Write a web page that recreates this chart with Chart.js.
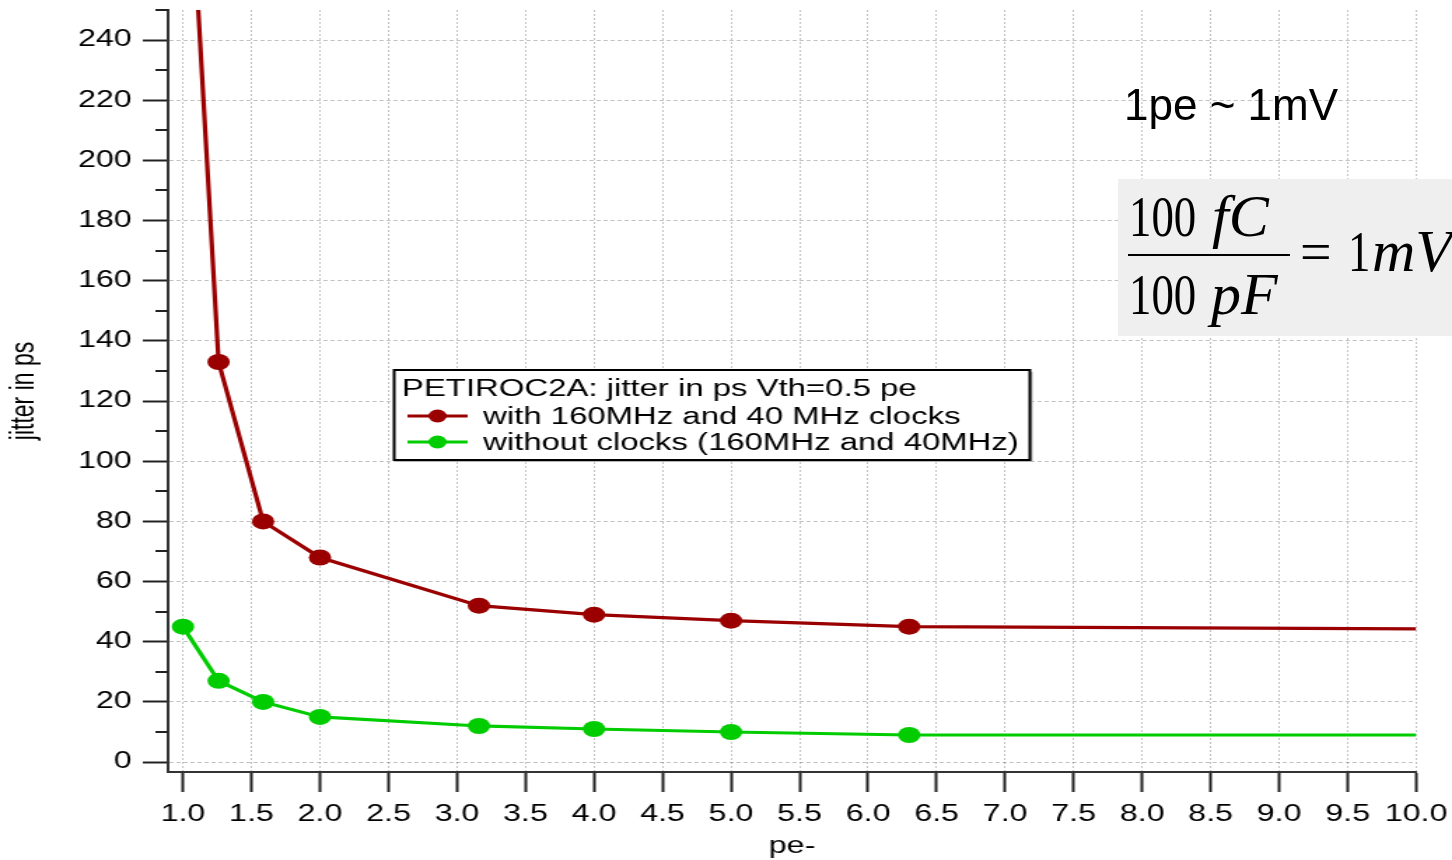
<!DOCTYPE html>
<html>
<head>
<meta charset="utf-8">
<script src="https://cdn.jsdelivr.net/npm/chart.js@4.4.0/dist/chart.umd.min.js"></script>
<style>
  body { margin: 0; background: #fff; }
  #wrap { position: relative; width: 1452px; height: 860px; overflow: hidden; background: #fff; }
  #chart { position: absolute; left: 0; top: 0; }
  .note { position: absolute; left: 1124px; top: 83px; font: 44px/44px "Liberation Sans", Arial, sans-serif; color: #000; white-space: nowrap; }
  .fbox { position: absolute; left: 1118px; top: 179px; width: 334px; height: 157px; background: #efefef; }
  .f { position: absolute; font: 56px/56px "Liberation Serif", "Times New Roman", serif; color: #000; white-space: nowrap; transform-origin: 0 0; }
  .f.i { font-style: italic; font-size: 60px; line-height: 60px; }
  .f.sq { transform: scaleX(0.8); }
  .bar { position: absolute; left: 1128px; top: 254px; width: 162px; height: 2px; background: #000; }
</style>
</head>
<body>
<div id="wrap">
  <!-- drawn at 1037px wide and stretched to the page width, like the original screenshot -->
  <canvas id="chart" width="1037" height="860" style="width:1452px;height:860px"></canvas>
  <div class="note">1pe ~ 1mV</div>
  <div class="fbox"></div>
  <span class="f sq" style="left:1129px;top:189px">100</span>
  <span class="f i" style="left:1212px;top:186px">fC</span>
  <div class="bar"></div>
  <span class="f sq" style="left:1129px;top:267px">100</span>
  <span class="f i" style="left:1211px;top:264px">pF</span>
  <span class="f" style="left:1300px;top:224px">=</span>
  <span class="f sq" style="left:1348px;top:224px">1</span>
  <span class="f i" style="left:1372px;top:221px">mV</span>
</div>
<script>
const peValues = [1.0, 1.26, 1.585, 2.0, 3.16, 4.0, 5.0, 6.3, 10.0];
const jitterWithClocks = [338, 133, 80, 68, 52, 49, 47, 45, 44.3];
const jitterNoClocks = [45, 27, 20, 15, 12, 11, 10, 9, 9];

const xTickValues = [1.0, 1.5, 2.0, 2.5, 3.0, 3.5, 4.0, 4.5, 5.0, 5.5, 6.0, 6.5, 7.0, 7.5, 8.0, 8.5, 9.0, 9.5, 10.0];
const yTickValues = [0, 20, 40, 60, 80, 100, 120, 140, 160, 180, 200, 220, 240];
const yMinorTickValues = [10, 30, 50, 70, 90, 110, 130, 150, 170, 190, 210, 230, 250];

const legendTitle = 'PETIROC2A: jitter in ps Vth=0.5 pe';

const FONT = '"Liberation Sans", Arial, sans-serif';
Chart.defaults.font.family = FONT;
Chart.defaults.color = '#000';

function toPoints(ys) {
  return peValues.map((x, i) => ({ x: x, y: ys[i] }));
}

// no marker on the last point, the line just runs to the axis end
const radius = c => (c.dataIndex === peValues.length - 1 ? 0 : 8);

// minor y ticks + the boxed legend
const extras = {
  id: 'extras',
  afterDraw(chart) {
    const ctx = chart.ctx;
    const y = chart.scales.y;
    ctx.save();
    ctx.strokeStyle = '#222';
    ctx.lineWidth = 2;
    yMinorTickValues.forEach(v => {
      const py = Math.round(y.getPixelForValue(v));
      ctx.beginPath();
      ctx.moveTo(y.right - 9, py);
      ctx.lineTo(y.right, py);
      ctx.stroke();
    });

    const lx = 281.5, ly = 370, lw = 454, lh = 90;
    ctx.fillStyle = '#b5b5b5';
    ctx.fillRect(lx + 2, ly + 2, lw, lh);
    ctx.fillStyle = '#fff';
    ctx.fillRect(lx, ly, lw, lh);
    ctx.strokeStyle = '#000';
    ctx.lineWidth = 2;
    ctx.strokeRect(lx, ly, lw, lh);

    ctx.font = '23.5px ' + FONT;
    ctx.fillStyle = '#000';
    ctx.textBaseline = 'alphabetic';
    ctx.fillText(legendTitle, 287, 396);
    chart.data.datasets.forEach((ds, i) => {
      const cy = 416 + i * 26;
      ctx.strokeStyle = ds.borderColor;
      ctx.lineWidth = 3;
      ctx.beginPath();
      ctx.moveTo(291, cy);
      ctx.lineTo(334, cy);
      ctx.stroke();
      ctx.fillStyle = ds.borderColor;
      ctx.beginPath();
      ctx.arc(312.5, cy, 6.5, 0, Math.PI * 2);
      ctx.fill();
      ctx.fillStyle = '#000';
      ctx.fillText(ds.label, 345, cy + 8);
    });
    ctx.restore();
  }
};

const gridStyle = {
  color: 'rgba(0,0,0,0.24)',
  lineWidth: 1,
  tickColor: '#222',
  tickWidth: 2,
  tickBorderDash: []
};

new Chart(document.getElementById('chart'), {
  type: 'line',
  data: {
    datasets: [
      {
        label: 'with 160MHz and 40 MHz clocks',
        data: toPoints(jitterWithClocks),
        borderColor: '#9a0000',
        backgroundColor: '#9a0000',
        borderWidth: 3.2,
        pointRadius: radius,
        pointBorderWidth: 0,
        pointBackgroundColor: '#9a0000',
        tension: 0,
        fill: false
      },
      {
        label: 'without clocks (160MHz and 40MHz)',
        data: toPoints(jitterNoClocks),
        borderColor: '#00cc00',
        backgroundColor: '#00cc00',
        borderWidth: 3.2,
        pointRadius: radius,
        pointBorderWidth: 0,
        pointBackgroundColor: '#00cc00',
        tension: 0,
        fill: false
      }
    ]
  },
  options: {
    responsive: false,
    animation: false,
    layout: { padding: { left: 0, top: 10, right: 25.6, bottom: 0 } },
    plugins: {
      legend: { display: false },
      tooltip: { enabled: false }
    },
    scales: {
      x: {
        type: 'linear',
        min: 0.891,
        max: 10.0,
        afterBuildTicks: scale => { scale.ticks = xTickValues.map(v => ({ value: v })); },
        afterFit: scale => { scale.height = 88; scale.paddingLeft = 0; scale.paddingRight = 0; },
        ticks: {
          callback: v => v.toFixed(1),
          autoSkip: false,
          maxRotation: 0,
          padding: 9,
          font: { size: 23 },
          color: '#000'
        },
        grid: Object.assign({ tickLength: 20 }, gridStyle),
        border: { display: true, color: '#333', width: 2, dash: [2, 2] },
        title: {
          display: true,
          text: 'pe-',
          font: { size: 23 },
          color: '#000',
          padding: { top: 0, bottom: 0 }
        }
      },
      y: {
        min: -3.3,
        max: 250,
        afterBuildTicks: scale => { scale.ticks = yTickValues.map(v => ({ value: v })); },
        afterFit: scale => { scale.width = 120; scale.paddingTop = 0; scale.paddingBottom = 0; },
        ticks: {
          padding: 8,
          font: { size: 23 },
          color: '#000'
        },
        grid: Object.assign({ tickLength: 18 }, gridStyle),
        border: { display: true, color: '#333', width: 2, dash: [3, 2] },
        title: {
          display: true,
          text: 'jitter in ps',
          font: { size: 23 },
          color: '#000',
          padding: { top: 3.5, bottom: 0 }
        }
      }
    }
  },
  plugins: [extras]
});
</script>
</body>
</html>
